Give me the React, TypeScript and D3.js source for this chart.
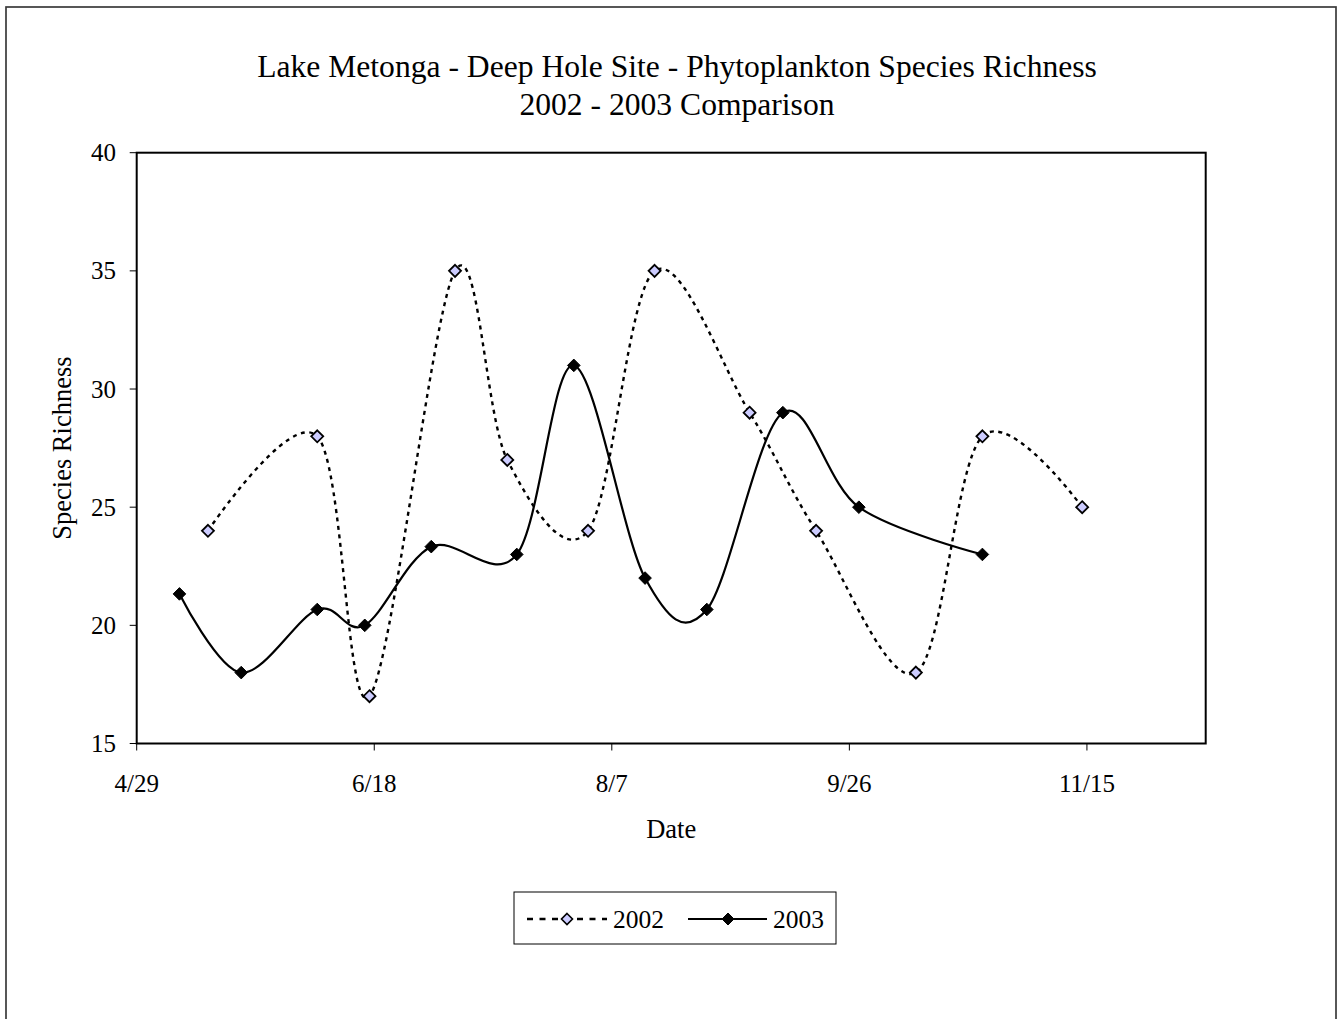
import React from 'react';
import * as d3 from 'd3';

const title1 = 'Lake Metonga - Deep Hole Site - Phytoplankton Species Richness';
const title2 = '2002 - 2003 Comparison';
const xTitle = 'Date';
const yTitle = 'Species Richness';

const dates2002 = ['5/14', '6/6', '6/17', '7/5', '7/16', '8/2', '8/16', '9/5', '9/19', '10/10', '10/24', '11/14'];
const values2002 = [24, 28, 17, 35, 27, 24, 35, 29, 24, 18, 28, 25];

const dates2003 = ['5/8', '5/21', '6/6', '6/16', '6/30', '7/18', '7/30', '8/14', '8/27', '9/12', '9/28', '10/24'];
const values2003 = [21.33, 18, 20.67, 20, 23.33, 23, 31, 22, 20.67, 29, 25, 23];

const xDomain = ['4/29', '12/10'];
const xTickLabels = ['4/29', '6/18', '8/7', '9/26', '11/15'];
const yTicks = [15, 20, 25, 30, 35, 40];
const yDomain = [15, 40];
const seriesNames = ['2002', '2003'];

const parse = (s: string) => {
  const [m, d] = s.split('/').map(Number);
  return new Date(Date.UTC(2002, m - 1, d));
};

const W = 1339;
const H = 1019;
const L = 136.7;
const R = 1205.7;
const T = 152.7;
const B = 743.5;
const FONT = '"Liberation Serif", "Times New Roman", serif';

function diamond(cx: number, cy: number, r: number) {
  return `M${cx},${cy - r}L${cx + r},${cy}L${cx},${cy + r}L${cx - r},${cy}Z`;
}

export default function App() {
  const x = d3.scaleUtc().domain(xDomain.map(parse)).range([L, R]);
  const y = d3.scaleLinear().domain(yDomain).range([B, T]);
  const line = d3
    .line<[Date, number]>()
    .x((d) => x(d[0]))
    .y((d) => y(d[1]))
    .curve(d3.curveCardinal.tension(0));

  const s2002: [Date, number][] = dates2002.map((d, i) => [parse(d), values2002[i]]);
  const s2003: [Date, number][] = dates2003.map((d, i) => [parse(d), values2003[i]]);

  const legY = 919;

  return (
    <svg
      width={W}
      height={H}
      style={{ position: 'absolute', left: 0, top: 0, display: 'block', background: '#fff' }}
      fontFamily={FONT}
    >
      <rect x={6} y={7} width={1330} height={1030} fill="#fff" stroke="#3a3a3a" strokeWidth={1.7} />
      <text x={677} y={77} textAnchor="middle" fontSize={31.6}>{title1}</text>
      <text x={677} y={115} textAnchor="middle" fontSize={31.6}>{title2}</text>

      <rect x={L} y={T} width={R - L} height={B - T} fill="none" stroke="#000" strokeWidth={2} />

      {yTicks.map((t) => (
        <g key={t}>
          <line x1={L - 7} x2={L} y1={y(t)} y2={y(t)} stroke="#000" strokeWidth={1} />
          <text x={116} y={y(t) + 8.5} textAnchor="end" fontSize={25}>{t}</text>
        </g>
      ))}
      {xTickLabels.map((t) => (
        <g key={t}>
          <line x1={x(parse(t))} x2={x(parse(t))} y1={B} y2={B + 7} stroke="#000" strokeWidth={1} />
          <text x={x(parse(t))} y={792} textAnchor="middle" fontSize={25}>{t}</text>
        </g>
      ))}
      <text x={(L + R) / 2} y={838} textAnchor="middle" fontSize={26.5}>{xTitle}</text>
      <text
        transform={`translate(71,${(T + B) / 2}) rotate(-90)`}
        textAnchor="middle"
        fontSize={26.5}
      >
        {yTitle}
      </text>

      <path d={line(s2002) || ''} fill="none" stroke="#000" strokeWidth={2.4} strokeDasharray="4,4.5" />
      <path d={line(s2003) || ''} fill="none" stroke="#000" strokeWidth={2.2} />
      {s2002.map((d, i) => (
        <path key={'a' + i} d={diamond(x(d[0]), y(d[1]), 6)} fill="#ccccff" stroke="#000" strokeWidth={1.8} />
      ))}
      {s2003.map((d, i) => (
        <path key={'b' + i} d={diamond(x(d[0]), y(d[1]), 6.3)} fill="#000" stroke="#000" strokeWidth={1} />
      ))}

      <rect x={514} y={892} width={322} height={52} fill="#fff" stroke="#000" strokeWidth={1} />
      <line x1={527} x2={607} y1={legY} y2={legY} stroke="#000" strokeWidth={2.4} strokeDasharray="6,6.5" />
      <path d={diamond(567, legY, 5.5)} fill="#ccccff" stroke="#000" strokeWidth={1.6} />
      <text x={613} y={legY + 9} fontSize={25.5}>{seriesNames[0]}</text>
      <line x1={688} x2={767} y1={legY} y2={legY} stroke="#000" strokeWidth={2.2} />
      <path d={diamond(728, legY, 6)} fill="#000" stroke="#000" strokeWidth={1} />
      <text x={773} y={legY + 9} fontSize={25.5}>{seriesNames[1]}</text>
    </svg>
  );
}
